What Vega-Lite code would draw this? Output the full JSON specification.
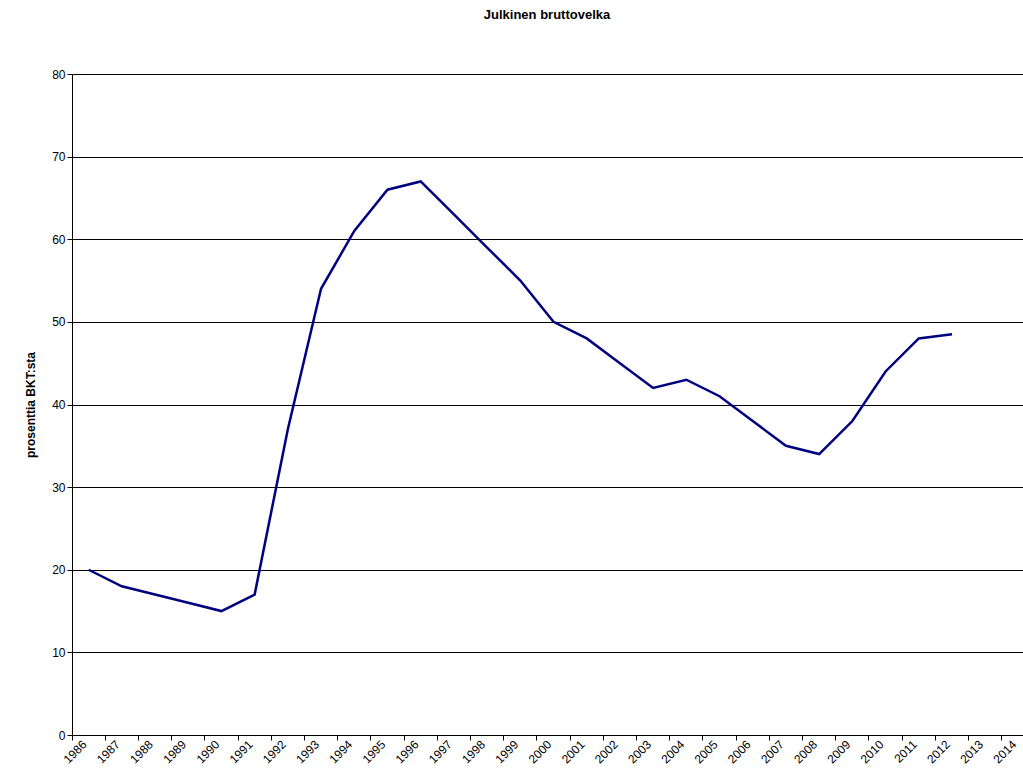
{
  "$schema": "https://vega.github.io/schema/vega-lite/v6.json",
  "autosize": {"type": "none"},
  "padding": {"left": 72, "top": 74, "right": 1, "bottom": 47},
  "width": 950,
  "height": 661,
  "background": "white",
  "title": {"text": "Julkinen bruttovelka", "font": "Liberation Sans", "fontSize": 13, "fontWeight": "bold", "offset": 46, "anchor": "middle"},
  "config": {"view": {"stroke": null}, "font": "Liberation Sans"},
  "data": {"values": [
    {"vuosi": "1986", "velka": 20}, {"vuosi": "1987", "velka": 18}, {"vuosi": "1988", "velka": 17},
    {"vuosi": "1989", "velka": 16}, {"vuosi": "1990", "velka": 15}, {"vuosi": "1991", "velka": 17},
    {"vuosi": "1992", "velka": 37}, {"vuosi": "1993", "velka": 54}, {"vuosi": "1994", "velka": 61},
    {"vuosi": "1995", "velka": 66}, {"vuosi": "1996", "velka": 67}, {"vuosi": "1997", "velka": 63},
    {"vuosi": "1998", "velka": 59}, {"vuosi": "1999", "velka": 55}, {"vuosi": "2000", "velka": 50},
    {"vuosi": "2001", "velka": 48}, {"vuosi": "2002", "velka": 45}, {"vuosi": "2003", "velka": 42},
    {"vuosi": "2004", "velka": 43}, {"vuosi": "2005", "velka": 41}, {"vuosi": "2006", "velka": 38},
    {"vuosi": "2007", "velka": 35}, {"vuosi": "2008", "velka": 34}, {"vuosi": "2009", "velka": 38},
    {"vuosi": "2010", "velka": 44}, {"vuosi": "2011", "velka": 48}, {"vuosi": "2012", "velka": 48.5},
    {"vuosi": "2013", "velka": null}, {"vuosi": "2014", "velka": null}
  ]},
  "mark": {"type": "line", "color": "#000080", "strokeWidth": 2.5},
  "encoding": {
    "x": {"field": "vuosi", "type": "ordinal", "title": null,
      "scale": {"type": "band", "paddingInner": 0, "paddingOuter": 0, "range": [0, 963]},
      "axis": {"labelAngle": -45, "labelAlign": "right", "labelBaseline": "middle", "labelFontSize": 12, "labelColor": "black", "domainColor": "black", "tickColor": "black", "tickSize": 5, "bandPosition": 0, "labelPadding": 2, "labelOffset": -4}},
    "y": {"field": "velka", "type": "quantitative", "title": "prosenttia BKT:sta",
      "scale": {"domain": [0, 80]},
      "axis": {"values": [0, 10, 20, 30, 40, 50, 60, 70, 80], "gridColor": "black", "gridOpacity": 1, "domainColor": "black", "tickColor": "black", "labelFontSize": 12, "labelColor": "black", "titleFontSize": 12, "titleFontWeight": "bold", "titleColor": "black", "titlePadding": 14}}
  }
}
